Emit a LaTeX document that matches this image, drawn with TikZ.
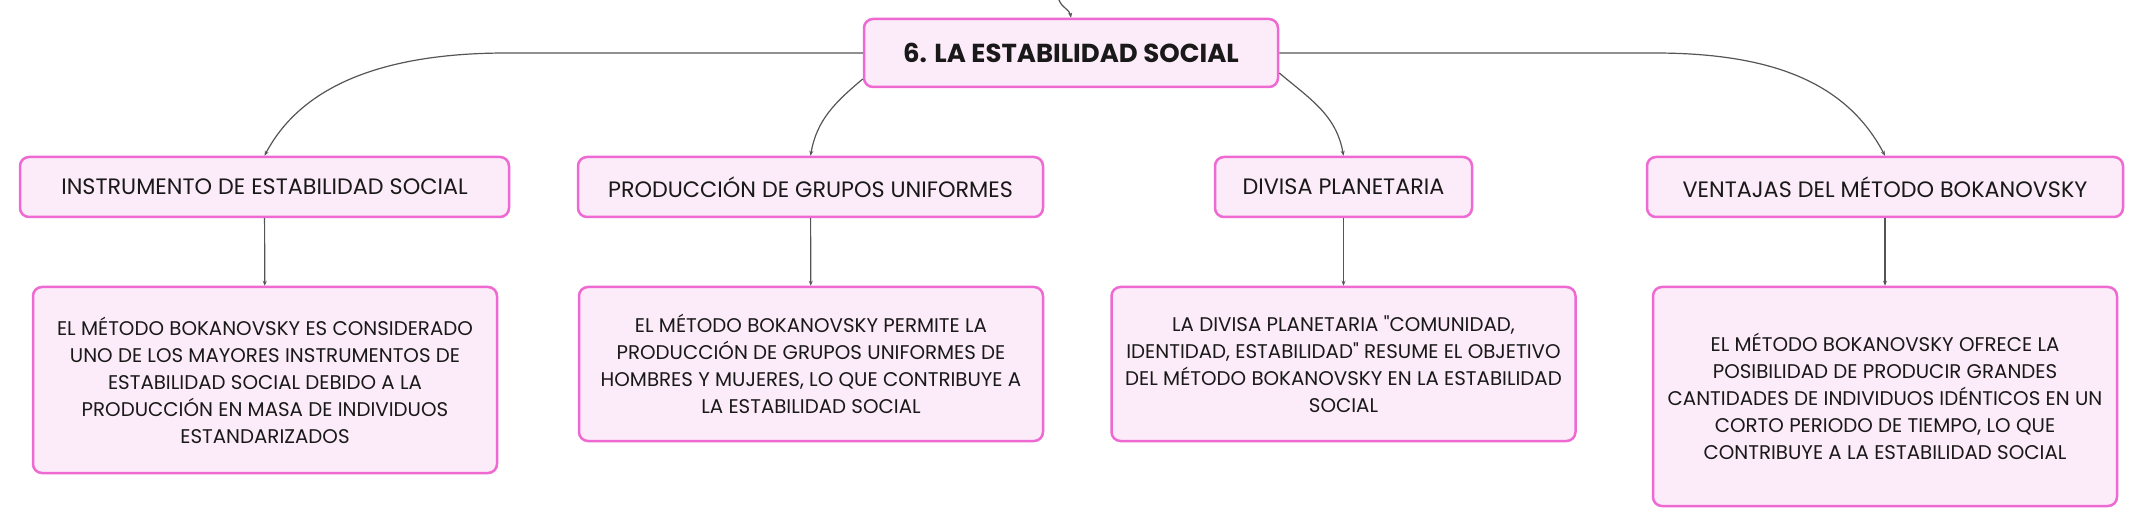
\documentclass[tikz,border=0pt]{standalone}
\usepackage{fontspec}
\setmainfont{Poppins}
\usetikzlibrary{arrows.meta}
\definecolor{rosa}{HTML}{EE6AD2}
\definecolor{rosaclaro}{HTML}{FCEBF8}
\definecolor{linea}{HTML}{555555}
\begin{document}
\begin{tikzpicture}[x=1pt, y=1pt,
    every node/.style={draw=rosa, line width=2.5pt, fill=rosaclaro, rounded corners=9pt, align=center, text=black!90, inner sep=0pt},
    titulo/.style={minimum width=414pt, minimum height=68pt, font=\fontsize{26}{30}\selectfont\bfseries},
    tema/.style={minimum height=60pt, font=\fontsize{22.3}{26}\selectfont},
    texto/.style={minimum width=464pt, font=\fontsize{19.8}{27}\selectfont},
    enlace/.style={->, draw=linea, line width=1.2pt},
    >={Stealth[length=5pt,width=4pt]}]
    \useasboundingbox (0,0) rectangle (2142,-526);
    \node[titulo] (raiz) at (1071,-53) {6. LA ESTABILIDAD SOCIAL};
    \node[tema, minimum width=489pt] (t1) at (264.5,-187) {INSTRUMENTO DE ESTABILIDAD SOCIAL};
    \node[tema, minimum width=465pt] (t2) at (810.5,-187) {PRODUCCIÓN DE GRUPOS UNIFORMES};
    \node[tema, minimum width=257pt] (t3) at (1343.5,-187) {DIVISA PLANETARIA};
    \node[tema, minimum width=476pt] (t4) at (1885,-187) {VENTAJAS DEL MÉTODO BOKANOVSKY};
    \node[texto, minimum height=186pt] (d1) at (265,-380) {EL MÉTODO BOKANOVSKY ES CONSIDERADO\\UNO DE LOS MAYORES INSTRUMENTOS DE\\ESTABILIDAD SOCIAL DEBIDO A LA\\PRODUCCIÓN EN MASA DE INDIVIDUOS\\ESTANDARIZADOS};
    \node[texto, minimum height=154pt] (d2) at (811,-364) {EL MÉTODO BOKANOVSKY PERMITE LA\\PRODUCCIÓN DE GRUPOS UNIFORMES DE\\HOMBRES Y MUJERES, LO QUE CONTRIBUYE A\\LA ESTABILIDAD SOCIAL};
    \node[texto, minimum height=154pt] (d3) at (1343.5,-364) {LA DIVISA PLANETARIA \textquotedbl COMUNIDAD,\\IDENTIDAD, ESTABILIDAD\textquotedbl{} RESUME EL OBJETIVO\\DEL MÉTODO BOKANOVSKY EN LA ESTABILIDAD\\SOCIAL};
    \node[texto, minimum height=219pt] (d4) at (1885,-396.5) {EL MÉTODO BOKANOVSKY OFRECE LA\\POSIBILIDAD DE PRODUCIR GRANDES\\CANTIDADES DE INDIVIDUOS IDÉNTICOS EN UN\\CORTO PERIODO DE TIEMPO, LO QUE\\CONTRIBUYE A LA ESTABILIDAD SOCIAL};
    \coordinate (arriba) at (1059,0); %viene del nodo anterior
    \draw[enlace] (arriba) to[out=-70,in=100] (raiz.north);
    \draw[enlace] (raiz.west) -- ++(-356,0) .. controls +(-120,0) and +(38,72) .. (t1.north);
    \draw[enlace] ([yshift=-26pt]raiz.west) to[out=220,in=80] (t2.north);
    \draw[enlace] ([yshift=-20pt]raiz.east) to[out=-40,in=100] (t3.north);
    \draw[enlace] (raiz.east) -- ++(375,0) .. controls +(120,0) and +(-38,72) .. (t4.north);
    \draw[enlace] (t1) -- (d1);
    \draw[enlace] (t2) -- (d2);
    \draw[enlace] (t3) -- (d3);
    \draw[enlace] (t4) -- (d4);
\end{tikzpicture}
\end{document}
